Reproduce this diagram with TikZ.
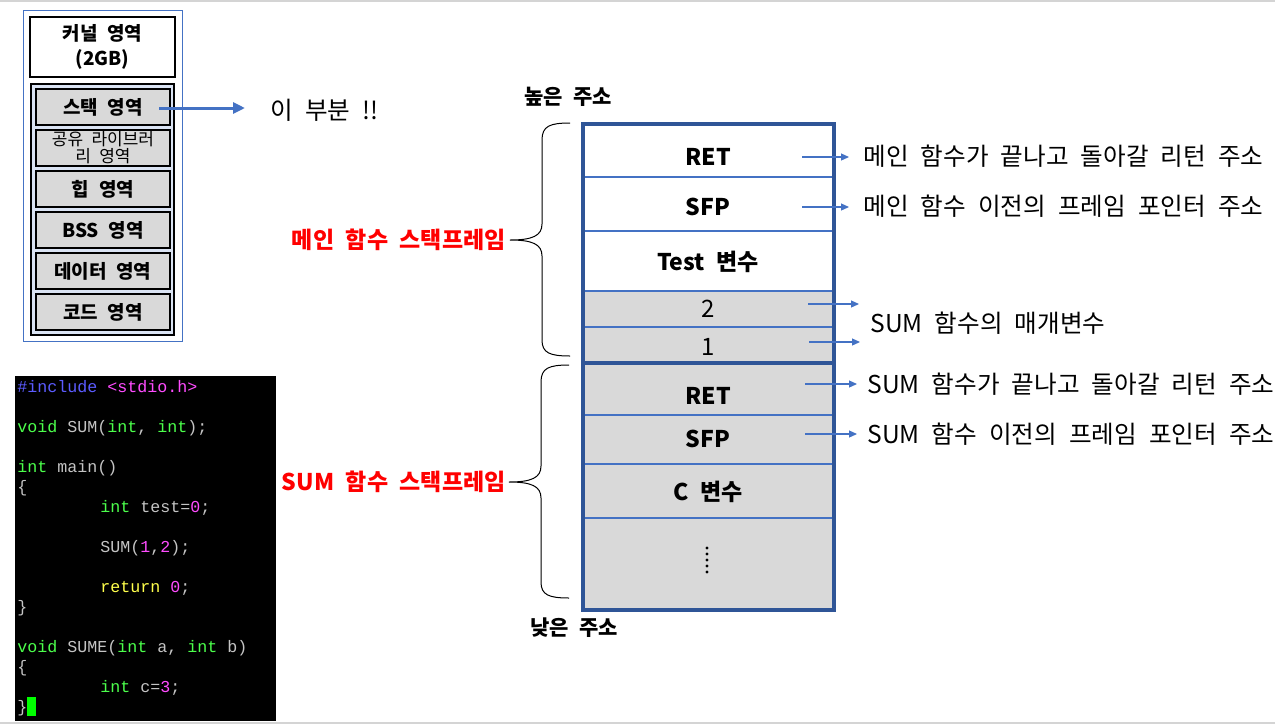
\documentclass[tikz,border=0pt]{standalone}
\usepackage{fontspec}
\setmainfont[WordSpace=2.2]{Noto Sans CJK KR}
\newfontfamily\codefont{Liberation Mono}
\usetikzlibrary{arrows.meta,positioning}

\definecolor{stackblue}{HTML}{2F5597}
\definecolor{arrowblue}{HTML}{4472C4}
\definecolor{cellgray}{HTML}{D9D9D9}
\definecolor{groupblue}{HTML}{DAE3F3}
\definecolor{screenedge}{HTML}{D4D4D4}
\definecolor{codeblue}{HTML}{5C5CFF}
\definecolor{codepink}{HTML}{FF4CFF}
\definecolor{codegreen}{HTML}{4CFF4C}
\definecolor{codegray}{HTML}{C4C4C4}
\definecolor{codeyellow}{HTML}{FFFF4C}
\definecolor{cursorgreen}{HTML}{00FF00}

\newcommand\tabin{\hspace*{41.5pt}}

\begin{document}
\begin{tikzpicture}[
    x = 0.5pt, y = -0.5pt, % one unit is one pixel of the screenshot
    > = {Triangle[length=4pt,width=3.5pt]}, % arrow head style
    node distance = 1.5pt, % gap between the memory areas
    inner sep = 0pt
    ]

    \tikzset{
    memcell/.style = {draw = black, line width = 1pt, fill = cellgray,
        minimum width = 67pt, minimum height = 18pt,
        font = \bfseries\fontsize{9.5}{12.5}\selectfont},
    slot/.style = {font = \bfseries\fontsize{11.5}{14}\selectfont},
    note/.style = {anchor = west, font = \fontsize{12.3}{14}\selectfont},
    pointer/.style = {->, arrowblue, line width = 0.6pt},
    rowline/.style = {arrowblue, line width = 0.6pt},
    framelabel/.style = {anchor = east, text = red,
        font = \bfseries\fontsize{11.5}{14}\selectfont},
    address/.style = {anchor = west, font = \bfseries\fontsize{10.5}{13}\selectfont},
    bracket/.style = {black, line width = 0.5pt},
    codetext/.style = {anchor = north west, align = left, text = codegray,
        font = \codefont\fontsize{8.33}{10}\selectfont}
    }

    \useasboundingbox (0,0) rectangle (1275,724);
    \fill[screenedge] (0,0) rectangle (1275,2);
    \fill[screenedge] (0,722) rectangle (1275,724);

    % memory layout
    \draw[arrowblue, line width = 0.5pt] (23,10) rectangle (182,341);
    \node[memcell, fill = white, minimum width = 72.5pt, minimum height = 30pt,
        align = center] (kernel) at (102.5,47) {커널 영역\\(2GB)};
    \draw[line width = 1pt, fill = groupblue] (31,84) rectangle (174,335);
    \node[memcell] (stack) at (103,107) {스택 영역};
    \node[memcell, below = of stack, align = center,
        font = \fontsize{8.5}{8.5}\selectfont] (shlib) {공유 라이브러\\리 영역};
    \node[memcell, below = of shlib] (heap) {힙 영역};
    \node[memcell, below = of heap] (bss) {BSS 영역};
    \node[memcell, below = of bss] (data) {데이터 영역};
    \node[memcell, below = of data] (text) {코드 영역};

    \node[note] (here) at (270,110) {이 부분 !!};
    \coordinate (stackfrom) at (159,108);
    \draw[->, arrowblue, line width = 1.5pt, >={Triangle[length=6pt,width=5.5pt]},
        shorten > = 12.5pt] (stackfrom) -- (stackfrom -| here.west);

    % source code
    \fill[black] (15,376) rectangle (276,721);
    \node[codetext] (source) at (17,380) {%
    {\color{codeblue}\#include} {\color{codepink}<stdio.h>}\\
    \mbox{}\\
    {\color{codegreen}void} SUM({\color{codegreen}int}, {\color{codegreen}int});\\
    \mbox{}\\
    {\color{codegreen}int} main()\\
    \{\\
    \tabin{\color{codegreen}int} test={\color{codepink}0};\\
    \mbox{}\\
    \tabin SUM({\color{codepink}1},{\color{codepink}2});\\
    \mbox{}\\
    \tabin{\color{codeyellow}return} {\color{codepink}0};\\
    \}\\
    \mbox{}\\
    {\color{codegreen}void} SUME({\color{codegreen}int} a, {\color{codegreen}int} b)\\
    \{\\
    \tabin{\color{codegreen}int} c={\color{codepink}3};\\
    \}};
    \fill[cursorgreen] (27,697) rectangle (36,716);

    % stack frames
    \fill[white] (583,124) rectangle (834,291);
    \fill[cellgray] (583,291) rectangle (834,610);
    \foreach \y in {177,231,291,327,415,464,518}
        \draw[rowline] (583,\y) -- (834,\y);
    \draw[stackblue, line width = 2pt] (583,363) -- (834,363);
    \draw[stackblue, line width = 2pt] (583,124) rectangle (834,610);

    \node[address] (high) at (524,97) {높은 주소};
    \node[address] (low) at (530,628) {낮은 주소};

    \node[slot] (mainret) at (708,157) {RET};
    \node[slot] (mainsfp) at (708,207) {SFP};
    \node[slot] (testvar) at (708,262) {Test 변수};
    \node[font = \fontsize{12}{14}\selectfont] (arg2) at (708,309) {2};
    \node[font = \fontsize{12}{14}\selectfont] (arg1) at (708,347) {1};
    \node[slot] (sumret) at (708,396) {RET};
    \node[slot] (sumsfp) at (708,439) {SFP};
    \node[slot] (cvar) at (708,492) {C 변수};
    \foreach \y in {548,554,560,566,572}
        \fill (707,\y) circle (0.8pt);

    % notes on the right
    \node[note] (mainretnote) at (863,156) {메인 함수가 끝나고 돌아갈 리턴 주소};
    \node[note] (mainsfpnote) at (863,206) {메인 함수 이전의 프레임 포인터 주소};
    \node[note] (argnote) at (870,323) {SUM 함수의 매개변수};
    \node[note] (sumretnote) at (867,384) {SUM 함수가 끝나고 돌아갈 리턴 주소};
    \node[note] (sumsfpnote) at (867,434) {SUM 함수 이전의 프레임 포인터 주소};

    \coordinate (mainretfrom) at (802,157);
    \coordinate (mainsfpfrom) at (802,207);
    \coordinate (arg2from) at (808,304);
    \coordinate (arg2to) at (859,304);
    \coordinate (arg1from) at (809,342);
    \coordinate (arg1to) at (860,342);
    \coordinate (sumretfrom) at (805,384);
    \coordinate (sumsfpfrom) at (805,434);
    \draw[pointer, shorten > = 7pt] (mainretfrom) -- (mainretfrom -| mainretnote.west);
    \draw[pointer, shorten > = 7pt] (mainsfpfrom) -- (mainsfpfrom -| mainsfpnote.west);
    \draw[pointer] (arg2from) -- (arg2to);
    \draw[pointer] (arg1from) -- (arg1to);
    \draw[pointer, shorten > = 5pt] (sumretfrom) -- (sumretfrom -| sumretnote.west);
    \draw[pointer, shorten > = 5pt] (sumsfpfrom) -- (sumsfpfrom -| sumsfpnote.west);

    % braces and frame names
    \draw[bracket] (570,123) .. controls (550,123) and (542,126) .. (542,140)
        -- (542,224) .. controls (542,236) and (532,240) .. (510,240)
        .. controls (532,240) and (542,244) .. (542,256)
        -- (542,340) .. controls (542,353) and (550,356) .. (570,356);
    \draw[bracket] (569,365) .. controls (549,365) and (541,368) .. (541,382)
        -- (541,466) .. controls (541,478) and (531,482) .. (509,482)
        .. controls (531,482) and (541,486) .. (541,498)
        -- (541,582) .. controls (541,595) and (549,598) .. (569,598);
    \node[framelabel] (mainframe) at (506,240) {메인 함수 스택프레임};
    \node[framelabel] (sumframe) at (506,482) {SUM 함수 스택프레임};
\end{tikzpicture}
\end{document}
